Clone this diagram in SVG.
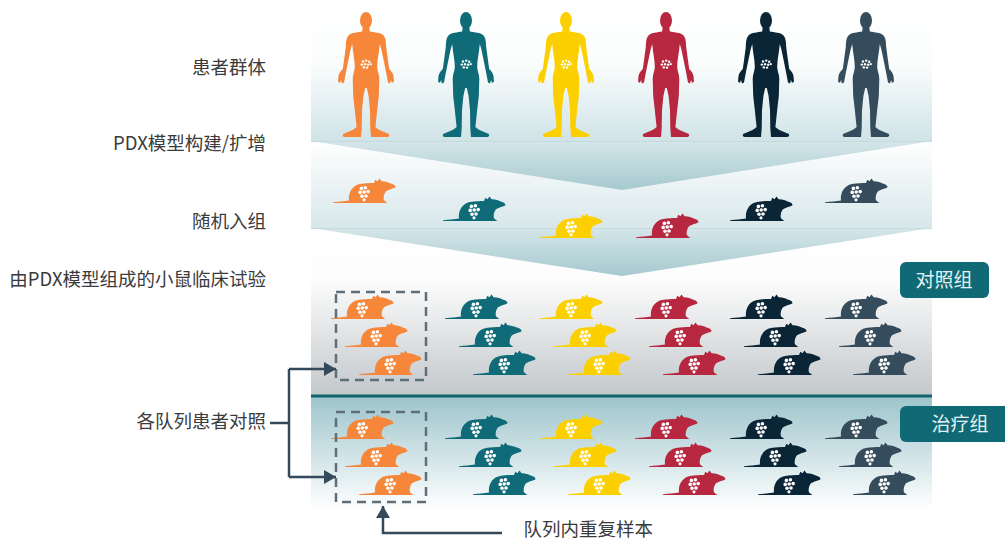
<svg xmlns="http://www.w3.org/2000/svg" xmlns:xlink="http://www.w3.org/1999/xlink" width="1005" height="540" viewBox="0 0 1005 540">
  <style>
    .lbl { font-family: "Noto Sans CJK SC", "Liberation Sans", sans-serif; font-size: 18.5px; fill: #3b3b3b; text-anchor: end; }
    .tag { font-family: "Noto Sans CJK SC", "Liberation Sans", sans-serif; font-size: 19px; fill: #e6f1f2; text-anchor: middle; }
    .tagbox { fill: #0f6a76; }
    .wire { fill: none; stroke: #34495a; stroke-width: 2.5; }
    .dash { fill: none; stroke: #5e6f7a; stroke-width: 2.5; stroke-dasharray: 9 6; }
    .seam { stroke: #c4dadd; stroke-width: 1; }
    .dot { fill: #ffffff; }
  </style>
  <defs>
    <linearGradient id="gTop" gradientUnits="userSpaceOnUse" x1="0" y1="0" x2="0" y2="141">
      <stop offset="0" stop-color="#ffffff"/>
      <stop offset="0.45" stop-color="#fbfdfd"/>
      <stop offset="1" stop-color="#d0e3e7"/>
    </linearGradient>
    <linearGradient id="gBand" gradientUnits="userSpaceOnUse" x1="0" y1="141" x2="0" y2="228">
      <stop offset="0" stop-color="#ffffff"/>
      <stop offset="1" stop-color="#d8e7ea"/>
    </linearGradient>
    <linearGradient id="gChev1" gradientUnits="userSpaceOnUse" x1="0" y1="141" x2="0" y2="190">
      <stop offset="0" stop-color="#d5e6e9"/>
      <stop offset="1" stop-color="#a5c9cf"/>
    </linearGradient>
    <linearGradient id="gChev2" gradientUnits="userSpaceOnUse" x1="0" y1="228" x2="0" y2="276">
      <stop offset="0" stop-color="#d5e6e9"/>
      <stop offset="1" stop-color="#a5c9cf"/>
    </linearGradient>
    <linearGradient id="gCtrl" gradientUnits="userSpaceOnUse" x1="0" y1="228" x2="0" y2="395">
      <stop offset="0" stop-color="#ffffff"/>
      <stop offset="0.3" stop-color="#fdfdfd"/>
      <stop offset="1" stop-color="#c3c8cb"/>
    </linearGradient>
    <linearGradient id="gTreat" gradientUnits="userSpaceOnUse" x1="0" y1="397" x2="0" y2="522">
      <stop offset="0" stop-color="#9ec5cc"/>
      <stop offset="0.9" stop-color="#ffffff"/>
      <stop offset="1" stop-color="#ffffff"/>
    </linearGradient>

    <marker id="head" markerUnits="userSpaceOnUse" markerWidth="14" markerHeight="14" refX="12" refY="7" orient="auto">
      <path d="M0,0 L12,7 L0,14 Z" fill="#34495a"/>
    </marker>

    <!-- standing human silhouette, centred on x=0, 125 tall -->
    <g id="human">
      <ellipse cx="0" cy="8.5" rx="6" ry="8.5"/>
      <path d="M3.2,14 L3.8,19.5 C8.5,20.5 14.5,20.5 17,23 C19.8,25.5 20,30 20.2,35 L21.8,47 L23.2,57 C25.2,59 27,61 27.5,64 L28,69.5 L26,71 L25,68 L24,71.5 L22,70.5 L20.6,63 L18,50 L15.5,38 L13.8,32 C13.2,40 11.2,48 11.2,55 C11.2,59 13.3,62 13.3,67 L12.8,84 L11.3,97 L9.4,115 C12,118 18,120 22,121.5 C24,122.5 23.5,125 21,125 L5,125 L4.3,116 L4,98 L2.6,84 L0.8,76 L-0.8,76 L-2.6,84 L-4,98 L-4.3,116 L-5,125 L-21,125 C-23.5,125 -24,122.5 -22,121.5 C-18,120 -12,118 -9.4,115 L-11.3,97 L-12.8,84 L-13.3,67 C-13.3,62 -11.2,59 -11.2,55 C-11.2,48 -13.2,40 -13.8,32 L-15.5,38 L-18,50 L-20.6,63 L-22,70.5 L-24,71.5 L-25,68 L-26,71 L-28,69.5 L-27.5,64 C-27,61 -25.2,59 -23.2,57 L-21.8,47 L-20.2,35 C-20,30 -19.8,25.5 -17,23 C-14.5,20.5 -8.5,20.5 -3.8,19.5 L-3.2,14 Z"/>
      <g class="dot">
        <circle cx="-3" cy="49.5" r="1.2"/>
        <circle cx="0.2" cy="48.6" r="1.2"/>
        <circle cx="3.2" cy="49.8" r="1.2"/>
        <circle cx="-4.2" cy="52.6" r="1.2"/>
        <circle cx="-1" cy="52.2" r="1.2"/>
        <circle cx="2.2" cy="52.8" r="1.2"/>
        <circle cx="4.8" cy="52.2" r="1.1"/>
        <circle cx="-2.2" cy="55.4" r="1.2"/>
        <circle cx="1" cy="55.6" r="1.2"/>
      </g>
    </g>

    <!-- mouse facing right, 62 x 24, tail along the ground -->
    <g id="mouse">
      <path d="M0,24 L0,23.3 C6,22.8 11,22.3 16,21.6 C15,14 19,6.5 27,5 C32,4 37,4 41,4 L42.3,0.8 L44.5,2.2 L46.5,-0.5 L48.6,2.2 C53,2.4 57,3.8 60.5,5.6 C62,6.4 62.8,7.6 62.3,8.5 C59,9.8 55.5,10.6 53,12.2 C51,14.8 50.3,18 50.8,21 C52,22.6 53.5,23.2 54.5,24 Z"/>
      <g class="dot">
        <circle cx="28.4" cy="9.4" r="1.8"/>
        <circle cx="32.4" cy="8.8" r="1.8"/>
        <circle cx="27.2" cy="13.4" r="1.8"/>
        <circle cx="31.2" cy="13" r="1.8"/>
        <circle cx="35.2" cy="12.6" r="1.8"/>
        <circle cx="29" cy="17.2" r="1.8"/>
        <circle cx="33" cy="17" r="1.8"/>
        <circle cx="31" cy="20.8" r="1.6"/>
      </g>
    </g>
  </defs>

  <!-- background bands -->
  <g id="bands">
    <rect x="311" y="0" width="621" height="141" fill="url(#gTop)"/>
    <rect x="311" y="141" width="621" height="87" fill="url(#gBand)"/>
    <rect x="311" y="228" width="621" height="167" fill="url(#gCtrl)"/>
    <rect x="311" y="397" width="621" height="125" fill="url(#gTreat)"/>
    <polygon points="311,141 932,141 622,190" fill="url(#gChev1)"/>
    <line class="seam" x1="311" y1="141.5" x2="932" y2="141.5"/>
    <polygon points="311,228 932,228 622,276" fill="url(#gChev2)"/>
    <line class="seam" x1="311" y1="228.5" x2="932" y2="228.5"/>
    <rect x="311" y="394.5" width="621" height="3" fill="#11646f"/>
  </g>

  <!-- step labels -->
  <g id="labels">
    <text class="lbl" x="266" y="74">患者群体</text>
    <text class="lbl" x="266" y="150">PDX模型构建/扩增</text>
    <text class="lbl" x="266" y="228">随机入组</text>
    <text class="lbl" x="266" y="286">由PDX模型组成的小鼠临床试验</text>
    <text class="lbl" x="266" y="428">各队列患者对照</text>
    <text class="lbl" x="653" y="536">队列内重复样本</text>
  </g>

  <!-- patient cohort -->
  <g id="patients">
    <use xlink:href="#human" x="366" y="12" fill="#f5863a"/>
    <use xlink:href="#human" x="466" y="12" fill="#0f6b78"/>
    <use xlink:href="#human" x="566" y="12" fill="#fcd000"/>
    <use xlink:href="#human" x="666" y="12" fill="#b7273f"/>
    <use xlink:href="#human" x="766" y="12" fill="#0a2535"/>
    <use xlink:href="#human" x="866" y="12" fill="#354c5c"/>
  </g>

  <!-- randomised mice -->
  <g id="random">
    <use xlink:href="#mouse" x="333" y="179" fill="#f5863a"/>
    <use xlink:href="#mouse" x="443" y="197" fill="#0f6b78"/>
    <use xlink:href="#mouse" x="540" y="214" fill="#fcd000"/>
    <use xlink:href="#mouse" x="636" y="214" fill="#b7273f"/>
    <use xlink:href="#mouse" x="730" y="197" fill="#0a2535"/>
    <use xlink:href="#mouse" x="825" y="179" fill="#354c5c"/>
  </g>

  <!-- control group -->
  <g id="control">
    <use xlink:href="#mouse" x="331" y="295" fill="#f5863a"/>
    <use xlink:href="#mouse" x="345" y="323" fill="#f5863a"/>
    <use xlink:href="#mouse" x="359" y="351" fill="#f5863a"/>
    <use xlink:href="#mouse" x="445" y="295" fill="#0f6b78"/>
    <use xlink:href="#mouse" x="459" y="323" fill="#0f6b78"/>
    <use xlink:href="#mouse" x="473" y="351" fill="#0f6b78"/>
    <use xlink:href="#mouse" x="540" y="295" fill="#fcd000"/>
    <use xlink:href="#mouse" x="554" y="323" fill="#fcd000"/>
    <use xlink:href="#mouse" x="568" y="351" fill="#fcd000"/>
    <use xlink:href="#mouse" x="635" y="295" fill="#b7273f"/>
    <use xlink:href="#mouse" x="649" y="323" fill="#b7273f"/>
    <use xlink:href="#mouse" x="663" y="351" fill="#b7273f"/>
    <use xlink:href="#mouse" x="730" y="295" fill="#0a2535"/>
    <use xlink:href="#mouse" x="744" y="323" fill="#0a2535"/>
    <use xlink:href="#mouse" x="758" y="351" fill="#0a2535"/>
    <use xlink:href="#mouse" x="825" y="295" fill="#354c5c"/>
    <use xlink:href="#mouse" x="839" y="323" fill="#354c5c"/>
    <use xlink:href="#mouse" x="853" y="351" fill="#354c5c"/>
    <rect class="dash" x="336" y="292" width="90" height="88"/>
  </g>

  <!-- treatment group -->
  <g id="treatment">
    <use xlink:href="#mouse" x="331" y="415" fill="#f5863a"/>
    <use xlink:href="#mouse" x="345" y="443" fill="#f5863a"/>
    <use xlink:href="#mouse" x="359" y="471" fill="#f5863a"/>
    <use xlink:href="#mouse" x="445" y="415" fill="#0f6b78"/>
    <use xlink:href="#mouse" x="459" y="443" fill="#0f6b78"/>
    <use xlink:href="#mouse" x="473" y="471" fill="#0f6b78"/>
    <use xlink:href="#mouse" x="540" y="415" fill="#fcd000"/>
    <use xlink:href="#mouse" x="554" y="443" fill="#fcd000"/>
    <use xlink:href="#mouse" x="568" y="471" fill="#fcd000"/>
    <use xlink:href="#mouse" x="635" y="415" fill="#b7273f"/>
    <use xlink:href="#mouse" x="649" y="443" fill="#b7273f"/>
    <use xlink:href="#mouse" x="663" y="471" fill="#b7273f"/>
    <use xlink:href="#mouse" x="730" y="415" fill="#0a2535"/>
    <use xlink:href="#mouse" x="744" y="443" fill="#0a2535"/>
    <use xlink:href="#mouse" x="758" y="471" fill="#0a2535"/>
    <use xlink:href="#mouse" x="825" y="415" fill="#354c5c"/>
    <use xlink:href="#mouse" x="839" y="443" fill="#354c5c"/>
    <use xlink:href="#mouse" x="853" y="471" fill="#354c5c"/>
    <rect class="dash" x="336" y="412" width="90" height="90"/>
  </g>

  <!-- group tags -->
  <g id="tag-control">
    <rect class="tagbox" x="900" y="262" width="89" height="36" rx="6"/>
    <text class="tag" x="944" y="287">对照组</text>
  </g>
  <g id="tag-treatment">
    <rect class="tagbox" x="900" y="406" width="115" height="36" rx="6"/>
    <text class="tag" x="960" y="431">治疗组</text>
  </g>

  <!-- connectors -->
  <g id="connectors">
    <path class="wire" d="M270,423 H289"/>
    <path class="wire" d="M289,369 V477"/>
    <path class="wire" d="M289,369 H336" marker-end="url(#head)"/>
    <path class="wire" d="M289,477 H336" marker-end="url(#head)"/>
    <path class="wire" d="M502,533 H383 V506" marker-end="url(#head)"/>
  </g>
</svg>
